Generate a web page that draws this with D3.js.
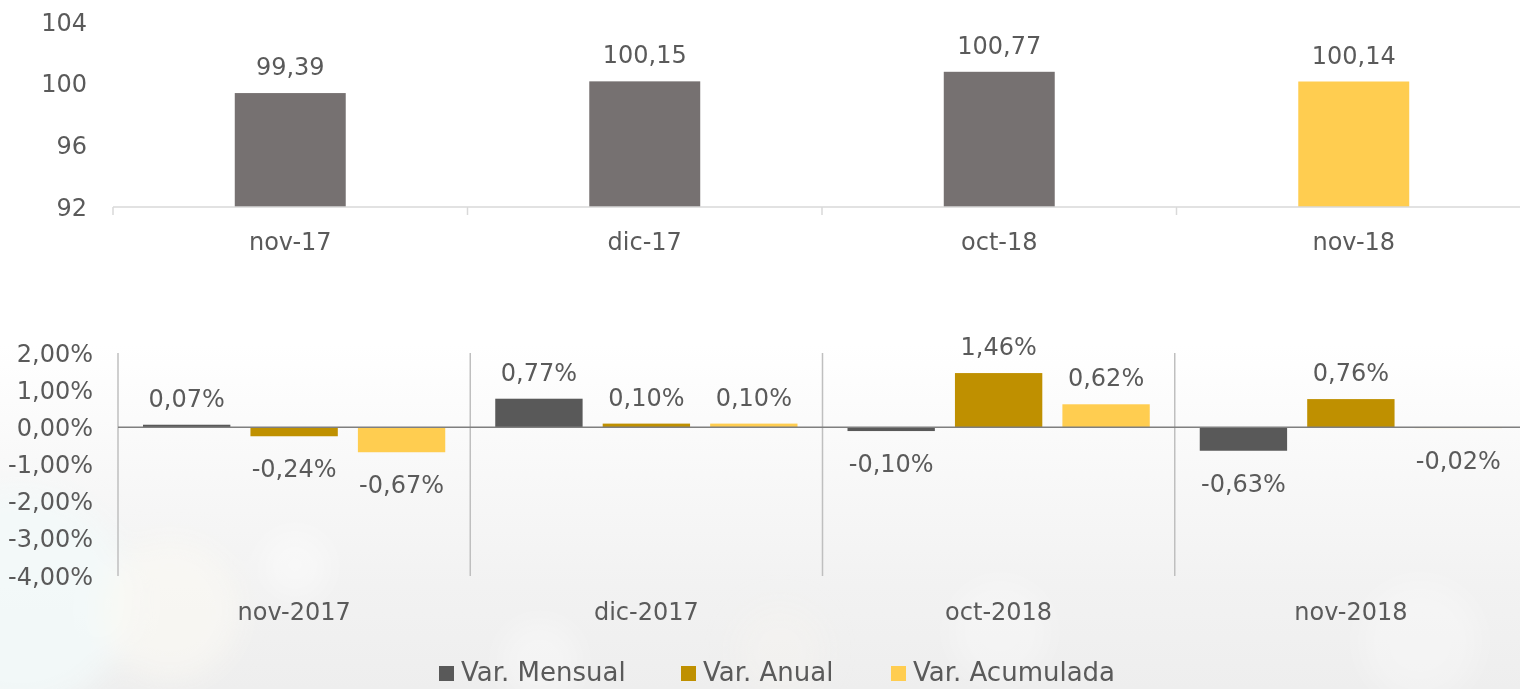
<!DOCTYPE html>
<html>
<head>
<meta charset="utf-8">
<script src="https://cdn.jsdelivr.net/npm/d3@7"></script>
<style>
  html, body { margin: 0; padding: 0; }
  body { width: 1520px; height: 689px; overflow: hidden; }
  text { font-family: "DejaVu Sans", sans-serif; fill: #5a5a5a; }
</style>
</head>
<body>
<div id="chart"></div>
<script>
// top chart: index values
const topCats = ["nov-17", "dic-17", "oct-18", "nov-18"]
const topValues = [99.39, 100.15, 100.77, 100.14]
const topTicks = [92, 96, 100, 104]

// bottom chart: variations (%)
const varCats = ["nov-2017", "dic-2017", "oct-2018", "nov-2018"]
const seriesNames = ["Var. Mensual", "Var. Anual", "Var. Acumulada"]
const mensual = [0.07, 0.77, -0.10, -0.63]
const anual = [-0.24, 0.10, 1.46, 0.76]
const acumulada = [-0.67, 0.10, 0.62, -0.02]
const varTicks = [2, 1, 0, -1, -2, -3, -4]

const topColors = ["#767171", "#767171", "#767171", "#FFCD50"]
const seriesColors = ["#595959", "#BF9000", "#FFCD50"]

const W = 1520, H = 689
const loc = d3.formatLocale({ decimal: ",", thousands: ".", grouping: [3], currency: ["", ""], minus: "-" })
const f2 = loc.format(".2f")

const svg = d3.select('#chart').append('svg').attr('width', W).attr('height', H)

// background
const defs = svg.append('defs')
const grad = defs.append('linearGradient').attr('id', 'bg').attr('x1', 0).attr('y1', 0).attr('x2', 0).attr('y2', 1)
grad.append('stop').attr('offset', '0.5').attr('stop-color', '#ffffff')
grad.append('stop').attr('offset', '0.85').attr('stop-color', '#f2f2f2')
grad.append('stop').attr('offset', '1').attr('stop-color', '#eeeeee')
const blur = defs.append('filter').attr('id', 'blur').attr('x', '-50%').attr('y', '-50%').attr('width', '200%').attr('height', '200%')
blur.append('feGaussianBlur').attr('stdDeviation', 14)
svg.append('rect').attr('width', W).attr('height', H).attr('fill', 'url(#bg)')
const bokeh = svg.append('g').attr('filter', 'url(#blur)').attr('fill', '#ffffff')
bokeh.append('circle').attr('cx', 20).attr('cy', 600).attr('r', 110).attr('fill', '#f2fafa').attr('opacity', 0.8)
bokeh.append('circle').attr('cx', 170).attr('cy', 610).attr('r', 70).attr('fill', '#fbfaf3').attr('opacity', 0.6)
bokeh.append('circle').attr('cx', 295).attr('cy', 565).attr('r', 35).attr('opacity', 0.4)
bokeh.append('circle').attr('cx', 540).attr('cy', 660).attr('r', 40).attr('opacity', 0.35)
bokeh.append('circle').attr('cx', 780).attr('cy', 650).attr('r', 45).attr('fill', '#f7f4ef').attr('opacity', 0.4)
bokeh.append('circle').attr('cx', 1000).attr('cy', 630).attr('r', 50).attr('opacity', 0.3)
bokeh.append('circle').attr('cx', 1420).attr('cy', 640).attr('r', 60).attr('opacity', 0.3)

// ---------- top chart ----------
const x1 = d3.scaleBand().domain(topCats).range([113, 1531])
const y1 = d3.scaleLinear().domain([92, 104]).range([207, 22])
const g1 = svg.append('g')
const bw1 = x1.bandwidth() * 0.313

g1.selectAll('.tb').data(topValues).join('rect')
  .attr('x', (d, i) => x1(topCats[i]) + x1.bandwidth() / 2 - bw1 / 2)
  .attr('y', d => y1(d))
  .attr('width', bw1)
  .attr('height', d => y1(92) - y1(d))
  .attr('fill', (d, i) => topColors[i])

g1.selectAll('.tl').data(topValues).join('text')
  .attr('x', (d, i) => x1(topCats[i]) + x1.bandwidth() / 2)
  .attr('y', d => y1(d) - 18)
  .attr('text-anchor', 'middle')
  .attr('font-size', 24)
  .text(d => f2(d))

// axis line + ticks
g1.append('line').attr('x1', 113).attr('x2', 1531).attr('y1', y1(92)).attr('y2', y1(92))
  .attr('stroke', '#d9d9d9').attr('stroke-width', 1.5)
g1.selectAll('.tk').data(topCats).join('line')
  .attr('x1', d => x1(d)).attr('x2', d => x1(d))
  .attr('y1', y1(92)).attr('y2', y1(92) + 8)
  .attr('stroke', '#d9d9d9').attr('stroke-width', 1.5)
g1.selectAll('.cl').data(topCats).join('text')
  .attr('x', d => x1(d) + x1.bandwidth() / 2)
  .attr('y', 250)
  .attr('text-anchor', 'middle')
  .attr('font-size', 24)
  .text(d => d)
g1.selectAll('.yl').data(topTicks).join('text')
  .attr('x', 87).attr('y', d => y1(d) + 8.5)
  .attr('text-anchor', 'end')
  .attr('font-size', 24)
  .text(d => d)

// ---------- bottom chart ----------
const series = [mensual, anual, acumulada]
const x0 = d3.scaleBand().domain(varCats).range([118, 1527])
const xs = d3.scaleBand().domain(seriesNames).range([25, x0.bandwidth() - 25]).paddingInner(0.187)
const y2 = d3.scaleLinear().domain([-4, 2]).range([576, 353])
const g2 = svg.append('g')

// dividers
g2.selectAll('.dv').data(varCats).join('line')
  .attr('x1', d => x0(d)).attr('x2', d => x0(d))
  .attr('y1', y2(2)).attr('y2', y2(-4))
  .attr('stroke', '#bfbfbf').attr('stroke-width', 1.5)

const groups = g2.selectAll('.grp').data(varCats).join('g')
  .attr('transform', d => `translate(${x0(d)},0)`)

groups.each(function (cat, ci) {
  const grp = d3.select(this)
  seriesNames.forEach((s, si) => {
    const v = series[si][ci]
    grp.append('rect')
      .attr('x', xs(s))
      .attr('y', y2(Math.max(0, v)))
      .attr('width', xs.bandwidth())
      .attr('height', Math.abs(y2(v) - y2(0)))
      .attr('fill', seriesColors[si])
    grp.append('text')
      .attr('x', xs(s) + xs.bandwidth() / 2)
      .attr('y', v >= 0 ? y2(v) - 18 : y2(v) + 41)
      .attr('text-anchor', 'middle')
      .attr('font-size', 24)
      .text(f2(v) + '%')
  })
})

// zero line
g2.append('line').attr('x1', 118).attr('x2', 1527).attr('y1', y2(0)).attr('y2', y2(0))
  .attr('stroke', '#7f7f7f').attr('stroke-width', 1.5)

g2.selectAll('.yl').data(varTicks).join('text')
  .attr('x', 93).attr('y', d => y2(d) + 8.5)
  .attr('text-anchor', 'end')
  .attr('font-size', 24)
  .text(d => f2(d) + '%')

g2.selectAll('.cl').data(varCats).join('text')
  .attr('x', d => x0(d) + x0.bandwidth() / 2)
  .attr('y', 620)
  .attr('text-anchor', 'middle')
  .attr('font-size', 24)
  .text(d => d)

// legend
const legX = [439, 681, 891]
const leg = svg.append('g')
seriesNames.forEach((s, i) => {
  leg.append('rect').attr('x', legX[i]).attr('y', 666).attr('width', 15).attr('height', 15)
    .attr('fill', seriesColors[i])
  leg.append('text').attr('x', legX[i] + 22).attr('y', 681)
    .attr('font-size', 26)
    .text(s)
})
</script>
</body>
</html>
